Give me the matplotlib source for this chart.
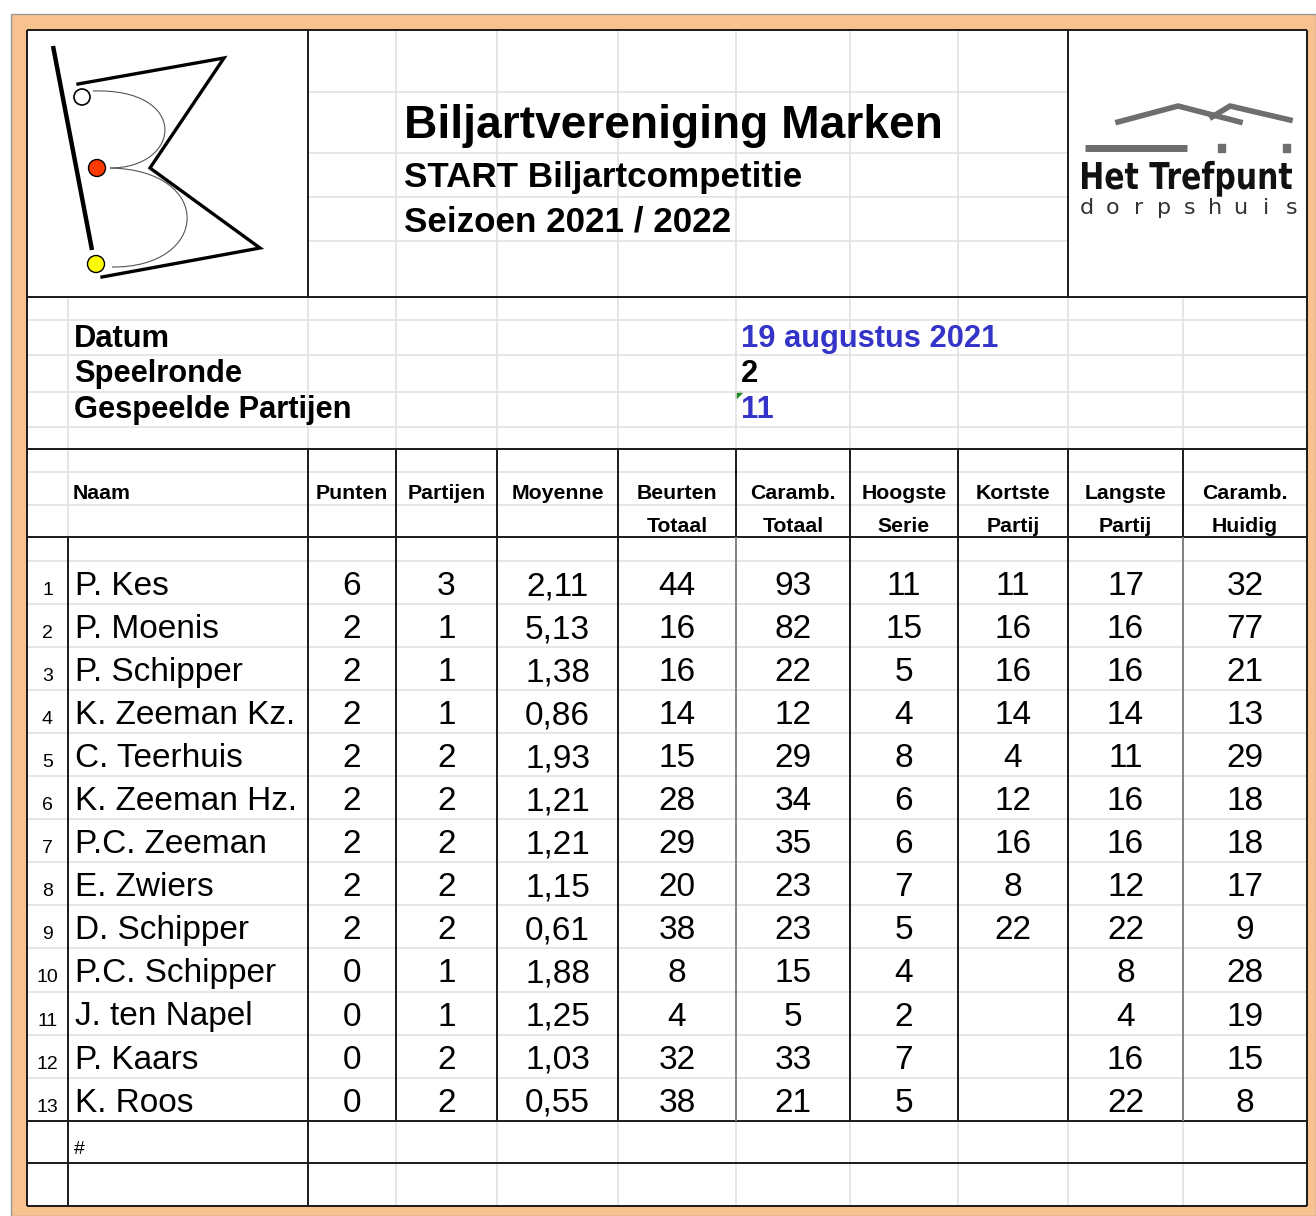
import matplotlib.pyplot as plt
from matplotlib.patches import Rectangle, Circle, Polygon, PathPatch
from matplotlib.path import Path
from matplotlib.textpath import TextPath
from matplotlib.font_manager import FontProperties
from matplotlib.transforms import Affine2D

plt.rcParams['font.family'] = ['Liberation Sans', 'DejaVu Sans']

# competition data
names = ["P. Kes", "P. Moenis", "P. Schipper", "K. Zeeman Kz.", "C. Teerhuis",
         "K. Zeeman Hz.", "P.C. Zeeman", "E. Zwiers", "D. Schipper",
         "P.C. Schipper", "J. ten Napel", "P. Kaars", "K. Roos"]
punten = [6, 2, 2, 2, 2, 2, 2, 2, 2, 0, 0, 0, 0]
partijen = [3, 1, 1, 1, 2, 2, 2, 2, 2, 1, 1, 2, 2]
moyenne = [2.11, 5.13, 1.38, 0.86, 1.93, 1.21, 1.21, 1.15, 0.61, 1.88, 1.25, 1.03, 0.55]
beurten = [44, 16, 16, 14, 15, 28, 29, 20, 38, 8, 4, 32, 38]
caramb_totaal = [93, 82, 22, 12, 29, 34, 35, 23, 23, 15, 5, 33, 21]
hoogste_serie = [11, 15, 5, 4, 8, 6, 6, 7, 5, 4, 2, 7, 5]
kortste_partij = [11, 16, 16, 14, 4, 12, 16, 8, 22, None, None, None, None]
langste_partij = [17, 16, 16, 14, 11, 16, 16, 12, 22, 8, 4, 16, 22]
caramb_huidig = [32, 77, 21, 13, 29, 18, 18, 17, 9, 28, 19, 15, 8]

headers = ["Naam", "Punten", "Partijen", "Moyenne", "Beurten\nTotaal", "Caramb.\nTotaal",
           "Hoogste\nSerie", "Kortste\nPartij", "Langste\nPartij", "Caramb.\nHuidig"]

club = "Biljartvereniging Marken"
competitie = "START Biljartcompetitie"
seizoen = "Seizoen 2021 / 2022"
info_labels = ["Datum", "Speelronde", "Gespeelde Partijen"]
info_values = ["19 augustus 2021", "2", "11"]

# sheet geometry (pixels)
W, H = 1316, 1216
cols = [27, 68, 308, 396, 497, 618, 736, 850, 958, 1068, 1183, 1307]
top, head_bot, info_bot, thead_bot = 30, 297, 449, 537
row0, row_h = 561, 43.05
n = len(names)
data_bot = row0 + n * row_h
bottom = 1206

LIGHT = '#e2e2e2'
DARK = '#1a1a1a'
BLUE = '#3434c8'

fig = plt.figure(figsize=(W / 100, H / 100), dpi=100)
ax = fig.add_axes([0, 0, 1, 1])
ax.set_xlim(0, W)
ax.set_ylim(H, 0)
ax.axis('off')

# orange frame and white sheet
ax.add_patch(Rectangle((11, 14), W - 11, H - 14, facecolor='#f8c190', edgecolor='#9a9a9a', lw=1))
ax.add_patch(Rectangle((cols[0], top), cols[-1] - cols[0], bottom - top, facecolor='white', edgecolor='none'))


def hline(y, x0=cols[0], x1=cols[-1], c=DARK, lw=1.4):
    ax.plot([x0, x1], [y, y], color=c, lw=lw, solid_capstyle='butt')


def vline(x, y0, y1, c=DARK, lw=1.4):
    ax.plot([x, x], [y0, y1], color=c, lw=lw, solid_capstyle='butt')


# light grid
for y in [92, 153, 197, 241]:
    hline(y, cols[2], cols[9], LIGHT, 1.2)
for x in cols[3:9]:
    vline(x, top, head_bot, LIGHT, 1.2)
for y in [320, 355, 392, 427, 472, 505]:
    hline(y, c=LIGHT, lw=1.2)
for x in cols[1:-1]:
    vline(x, head_bot, info_bot, LIGHT, 1.2)
vline(cols[1], info_bot, thead_bot, LIGHT, 1.2)
for i in range(1, n):
    hline(row0 + i * row_h, c=LIGHT, lw=1.2)
hline(row0, c=LIGHT, lw=1.2)
for x in cols[3:-1]:
    vline(x, data_bot, bottom, LIGHT, 1.2)

# dark borders
for y in [top, head_bot, info_bot, thead_bot, data_bot, 1163, bottom]:
    hline(y)
vline(cols[0], top, bottom)
vline(cols[-1], top, bottom)
vline(cols[2], top, head_bot)
vline(cols[9], top, head_bot)
for x in cols[2:-1]:
    vline(x, info_bot, thead_bot)
for x in cols[1:-1]:
    c = '#808080' if x in (736, 1183) else DARK
    vline(x, thead_bot, data_bot, c)
vline(cols[1], data_bot, bottom)
vline(cols[2], data_bot, bottom)

# club logo
ax.plot([53, 92], [46, 250], color='black', lw=3.2, solid_capstyle='butt')
ax.plot([78, 224, 150, 260, 102], [84, 58, 168, 248, 277], color='black', lw=2.4,
        solid_joinstyle='miter')
up = Path([(93, 91), (190, 88), (182, 168), (110, 168)], [Path.MOVETO, Path.CURVE4, Path.CURVE4, Path.CURVE4])
lo = Path([(110, 168), (215, 170), (210, 268), (112, 267)], [Path.MOVETO, Path.CURVE4, Path.CURVE4, Path.CURVE4])
ax.add_patch(PathPatch(up, facecolor='none', edgecolor='#555555', lw=0.8))
ax.add_patch(PathPatch(lo, facecolor='none', edgecolor='#555555', lw=0.8))
ax.add_patch(Circle((82, 97), 8, facecolor='white', edgecolor='black', lw=1.2, zorder=3))
ax.add_patch(Circle((97, 168), 8.5, facecolor='#ff3a00', edgecolor='black', lw=1.0, zorder=3))
ax.add_patch(Circle((96, 264), 8.5, facecolor='#ffff00', edgecolor='black', lw=1.0, zorder=3))

# Het Trefpunt logo
ax.plot([1118, 1178, 1240], [122, 106, 122], color='#6e6e6e', lw=4)
ax.plot([1212, 1230, 1290], [117, 106, 120], color='#6e6e6e', lw=4)
ax.plot([1085, 1187], [148, 148], color='#6e6e6e', lw=5, solid_capstyle='butt')
ax.add_patch(Rectangle((1218, 144), 7, 8, color='#6e6e6e'))
ax.add_patch(Rectangle((1283, 144), 7, 8, color='#6e6e6e'))
tp = TextPath((0, 0), "Het Trefpunt", size=37, prop=FontProperties(family='DejaVu Sans', weight='bold'))
ext = tp.get_extents()
sx = 210 / ext.width
tp = Affine2D().translate(-ext.x0, 0).scale(sx, -1).translate(1082, 189).transform_path(tp)
ax.add_patch(PathPatch(tp, facecolor='#111111', edgecolor='none'))
for k, ch in enumerate("dorpshuis"):
    ax.text(1087 + k * 25.6, 214, ch, ha='center', va='baseline', fontsize=16,
            family='DejaVu Sans', color='#333333')

# titles
ax.text(404, 138, club, fontsize=33.2, weight='bold', va='baseline')
ax.text(404, 187, competitie, fontsize=25.2, weight='bold', va='baseline')
ax.text(404, 231, seizoen, fontsize=25.2, weight='bold', va='baseline')

# info block
for lab, val, yb in zip(info_labels, info_values, [347, 382, 418]):
    ax.text(74, yb, lab, fontsize=22.2, weight='bold', va='baseline')
    ax.text(741, yb, val, fontsize=22.2, weight='bold', va='baseline',
            color='black' if val == "2" else BLUE)
ax.add_patch(Polygon([(736, 392), (743, 392), (736, 399)], color='#1a8a1a'))

# table header
for j, h in enumerate(headers):
    lines = h.split("\n")
    if j == 0:
        ax.text(73, 499, lines[0], fontsize=15.3, weight='bold', va='baseline')
        continue
    xc = (cols[j + 1] + cols[j + 2]) / 2
    ax.text(xc, 499, lines[0], fontsize=15.3, weight='bold', va='baseline', ha='center')
    if len(lines) > 1:
        ax.text(xc, 532, lines[1], fontsize=15.3, weight='bold', va='baseline', ha='center')

# table body
columns = [punten, partijen, [f"{m:.2f}".replace(".", ",") for m in moyenne], beurten,
           caramb_totaal, hoogste_serie, kortste_partij, langste_partij, caramb_huidig]
for i, name in enumerate(names):
    yb = row0 + i * row_h + 34
    ax.text(47.5, yb, str(i + 1), fontsize=14, ha='center', va='baseline')
    ax.text(75, yb, name, fontsize=24, va='baseline')
    for j, col in enumerate(columns):
        v = col[i]
        if v is None:
            continue
        xc = (cols[j + 2] + cols[j + 3]) / 2
        ax.text(xc, yb, str(v), fontsize=24, ha='center', va='baseline')

ax.text(74, 1154, "#", fontsize=14, va='baseline')

fig.savefig("out.png", dpi=100)
